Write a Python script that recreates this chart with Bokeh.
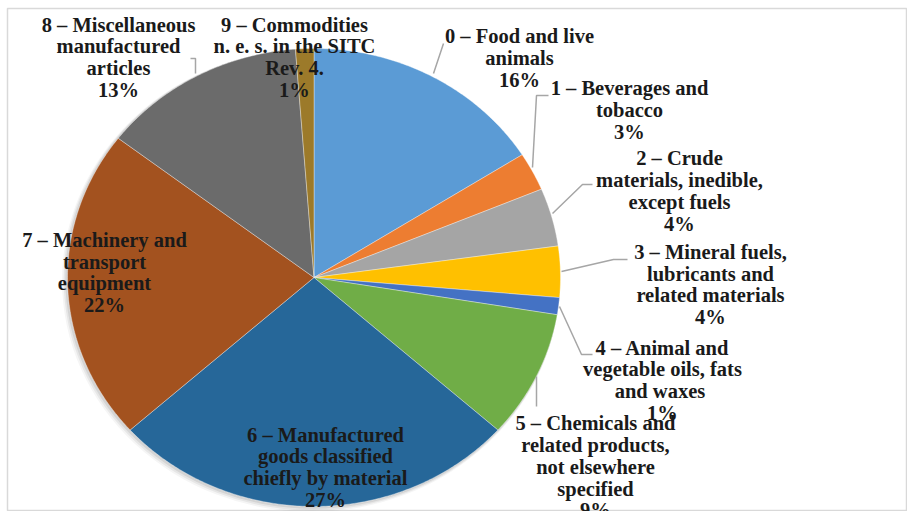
import numpy as np
from bokeh.plotting import figure
from bokeh.models import Range1d, ColumnDataSource
from bokeh.core.properties import value
from bokeh.embed import file_html
from bokeh.resources import INLINE

# ---- data ----
categories = [
    "0 – Food and live\nanimals",
    "1 – Beverages and\ntobacco",
    "2 – Crude\nmaterials, inedible,\nexcept fuels",
    "3 – Mineral fuels,\nlubricants and\nrelated materials",
    "4 – Animal and\nvegetable oils, fats\nand  waxes",
    "5 – Chemicals and\nrelated products,\nnot elsewhere\nspecified",
    "6 – Manufactured\ngoods classified\nchiefly by material",
    "7 – Machinery and\ntransport\nequipment",
    "8 – Miscellaneous\nmanufactured\narticles",
    "9 – Commodities\nn. e. s. in the SITC\nRev. 4.",
]
shares = [16.0, 2.7, 4.1, 3.6, 1.2, 9.0, 26.8, 22.0, 13.4, 1.2]
colors = ["#5B9BD5", "#ED7D31", "#A5A5A5", "#FFC000", "#4472C4",
          "#70AD47", "#266799", "#A3521F", "#6B6B6B", "#9C7A2A"]

# ---- layout (pixels, y downward) ----
W, H = 907, 511
CX, CY, RX, RY = 313.5, 277.0, 246.5, 229.0
label_x = [519, 629, 679, 710, 662, 595, 325, 104, 118, 294]
label_y = [57.7, 109.5, 190.5, 284, 379.75, 466.4, 466.75, 272, 56.75, 56.75]
leaders_x = [[433, 443], [548, 536, 532], [592, 582, 552], [627, 613, 561],
             [559, 581, 592], [536, 536], None, None, [190, 195, 195], None]
leaders_y = [[73, 43], [95, 95, 167], [184, 184, 213], [259, 259, 271],
             [306, 354, 354], [376, 406], None, None, [58, 58, 73], None]

p = figure(width=W, height=H, output_backend="svg", toolbar_location=None,
           x_range=Range1d(7, W), y_range=Range1d(H, 8),
           min_border_left=7, min_border_top=8, min_border_right=0, min_border_bottom=0,
           background_fill_color="white")
p.axis.visible = False
p.grid.visible = False
p.outline_line_color = "#D9D9D9"
p.outline_line_width = 1.5

# soft shadow
for off, a in [(5, 0.04), (3.5, 0.06), (2, 0.08)]:
    p.ellipse(x=[CX - off * 0.6], y=[CY + off * 0.6], width=2 * RX + off, height=2 * RY + off,
              fill_color="black", fill_alpha=a, line_color=None)

# pie slices (elliptical, clockwise from top)
total = sum(shares)
cum = np.concatenate([[0.0], np.cumsum(shares)]) / total * 2 * np.pi
xs, ys = [], []
for i in range(len(shares)):
    th = np.linspace(cum[i], cum[i + 1], max(8, int(shares[i] * 6)))
    xs.append([CX] + list(CX + RX * np.sin(th)))
    ys.append([CY] + list(CY - RY * np.cos(th)))
p.patches(xs=xs, ys=ys, fill_color=colors, line_color="white", line_width=0.6, line_alpha=0.6)

# leader lines
lx = [a for a in leaders_x if a is not None]
ly = [a for a in leaders_y if a is not None]
p.multi_line(xs=lx, ys=ly, line_color="#A6A6A6", line_width=1.5)

# labels
texts = [f"{c}\n{round(s / total * 100)}%" for c, s in zip(categories, shares)]
src = ColumnDataSource(dict(x=label_x, y=label_y, t=texts))
p.text(x="x", y="y", text="t", source=src, text_align="center", text_baseline="middle",
       text_font=value("Liberation Serif, Times New Roman, serif"), text_font_style="bold",
       text_font_size="20.5px", text_line_height=0.99, text_color="#1A1A1A")

open("out.html", "w").write(file_html(p, INLINE))
